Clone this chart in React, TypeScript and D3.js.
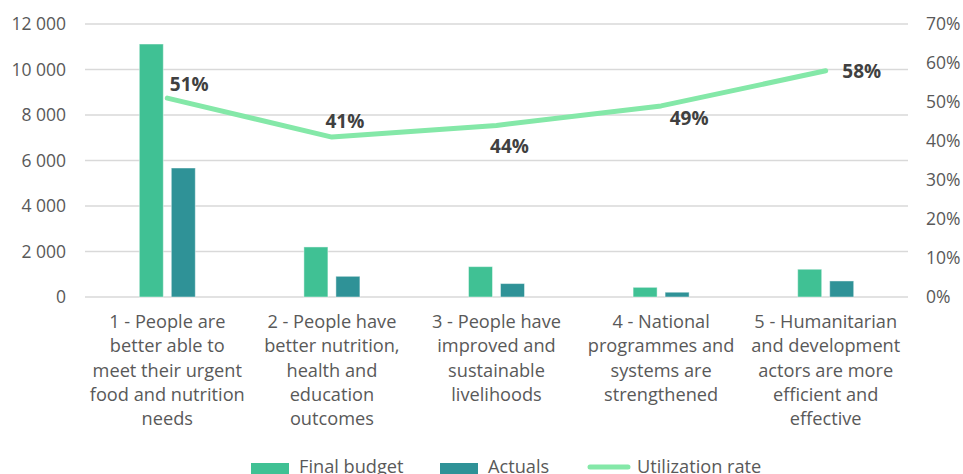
import React from "react";
import * as d3 from "d3";

const categories: string[][] = [
  ["1 - People are", "better able to", "meet their urgent", "food and nutrition", "needs"],
  ["2 - People have", "better nutrition,", "health and", "education", "outcomes"],
  ["3 - People have", "improved and", "sustainable", "livelihoods"],
  ["4 - National", "programmes and", "systems are", "strengthened"],
  ["5 - Humanitarian", "and development", "actors are more", "efficient and", "effective"],
];
const finalBudget = [11120, 2200, 1335, 425, 1220];
const actuals = [5670, 910, 590, 210, 705];
const utilization = [51, 41, 44, 49, 58];
const leftTicks = [0, 2000, 4000, 6000, 8000, 10000, 12000];
const rightTicks = [0, 10, 20, 30, 40, 50, 60, 70];
const seriesNames = ["Final budget", "Actuals", "Utilization rate"];

// label offsets (dx of text centre, dy of baseline) relative to each point
const labelOffsets: [number, number][] = [
  [22, -7],
  [13, -9],
  [13, 28],
  [28, 19],
  [36, 7],
];

const W = 963;
const H = 474;
const plotLeft = 85;
const plotRight = 908;
const plotTop = 24;
const plotBottom = 297;

const C_BUDGET = "#40c194";
const C_ACTUAL = "#2f9297";
const C_LINE = "#84e8a8";
const C_TEXT = "#595959";
const C_LABEL = "#404040";
const FONT = "'Open Sans', 'Noto Sans', sans-serif";
const CAT_FS = 18.2;

export default function App() {
  const x = d3
    .scaleBand<number>()
    .domain(categories.map((_, i) => i))
    .range([plotLeft, plotRight]);
  const yL = d3.scaleLinear().domain([0, 12000]).range([plotBottom, plotTop]);
  const yR = d3.scaleLinear().domain([0, 70]).range([plotBottom, plotTop]);
  const fmt = (v: number) => d3.format(",")(v).replace(/,/g, " ");

  const barW = 24;
  const gap = 8;
  const cx = (i: number) => (x(i) as number) + x.bandwidth() / 2;

  const line = d3
    .line<number>()
    .x((_, i) => cx(i))
    .y((d) => yR(d))
    .curve(d3.curveLinear);

  return (
    <svg
      width={W}
      height={H}
      style={{ position: "absolute", left: 0, top: 0, background: "#fff" }}
      fontFamily={FONT}
    >
      {leftTicks.map((t) => (
        <line
          key={"g" + t}
          x1={plotLeft}
          x2={plotRight}
          y1={yL(t)}
          y2={yL(t)}
          stroke="#d9d9d9"
          strokeWidth={1.3}
        />
      ))}
      {leftTicks.map((t) => (
        <text
          key={"l" + t}
          x={66}
          y={yL(t)}
          dy="0.36em"
          textAnchor="end"
          fontSize={17.5}
          fill={C_TEXT}
        >
          {fmt(t)}
        </text>
      ))}
      {rightTicks.map((t) => (
        <text
          key={"r" + t}
          x={926}
          y={yR(t)}
          dy="0.36em"
          textAnchor="start"
          fontSize={17.5}
          fill={C_TEXT}
        >
          {t + "%"}
        </text>
      ))}
      {finalBudget.map((v, i) => (
        <rect
          key={"b" + i}
          x={cx(i) - gap / 2 - barW}
          y={yL(v)}
          width={barW}
          height={yL(0) - yL(v)}
          fill={C_BUDGET}
          stroke="#ffffff"
          strokeOpacity={0.45}
          strokeWidth={1}
        />
      ))}
      {actuals.map((v, i) => (
        <rect
          key={"a" + i}
          x={cx(i) + gap / 2}
          y={yL(v)}
          width={barW}
          height={yL(0) - yL(v)}
          fill={C_ACTUAL}
          stroke="#ffffff"
          strokeOpacity={0.45}
          strokeWidth={1}
        />
      ))}
      <path
        d={line(utilization) || ""}
        fill="none"
        stroke={C_LINE}
        strokeWidth={5}
        strokeLinecap="round"
        strokeLinejoin="round"
      />
      {utilization.map((v, i) => (
        <text
          key={"u" + i}
          x={cx(i) + labelOffsets[i][0]}
          y={yR(v) + labelOffsets[i][1]}
          textAnchor="middle"
          fontSize={19}
          fontWeight="bold"
          fill={C_LABEL}
        >
          {v + "%"}
        </text>
      ))}
      {categories.map((lines, i) => (
        <text
          key={"c" + i}
          x={cx(i)}
          y={328}
          textAnchor="middle"
          fontSize={CAT_FS}
          fill={C_TEXT}
        >
          {lines.map((ln, j) => (
            <tspan key={j} x={cx(i)} y={328 + j * 24.3}>
              {ln}
            </tspan>
          ))}
        </text>
      ))}
      {/* legend */}
      <rect x={251} y={463} width={38} height={14} fill={C_BUDGET} />
      <text x={299} y={473} fontSize={CAT_FS} fill={C_TEXT}>
        {seriesNames[0]}
      </text>
      <rect x={440} y={463} width={38} height={14} fill={C_ACTUAL} />
      <text x={488} y={473} fontSize={CAT_FS} fill={C_TEXT}>
        {seriesNames[1]}
      </text>
      <line
        x1={590}
        x2={628}
        y1={467}
        y2={467}
        stroke={C_LINE}
        strokeWidth={5}
        strokeLinecap="round"
      />
      <text x={637} y={473} fontSize={CAT_FS} fill={C_TEXT}>
        {seriesNames[2]}
      </text>
    </svg>
  );
}
